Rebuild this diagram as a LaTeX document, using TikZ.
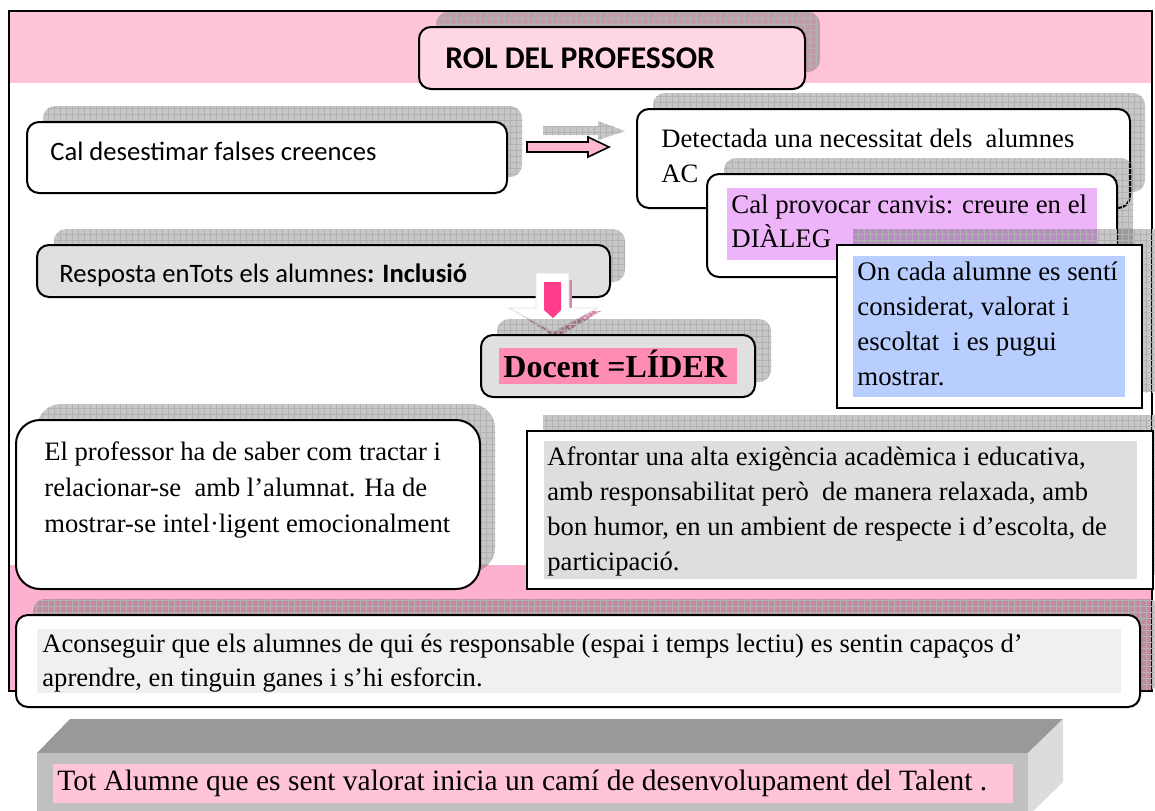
\documentclass[tikz,border=0pt]{standalone}
\usepackage{fontspec}
\setmainfont{Liberation Serif}
\newfontfamily\calibfont{Carlito}
\usetikzlibrary{patterns,fit}
\definecolor{bandpink}{HTML}{FFC4DA}
\definecolor{lowpink}{HTML}{FDB0CF}
\definecolor{rolpink}{HTML}{FFD6E6}
\definecolor{arrowpink}{HTML}{FFB6D0}
\definecolor{deeppink}{HTML}{FF3D8B}
\definecolor{liderpink}{HTML}{FF8CB4}
\definecolor{dialegviolet}{HTML}{EEB4FA}
\definecolor{consblue}{HTML}{B8CEFF}
\definecolor{boxgray}{HTML}{E0E0E0}
\definecolor{exiggray}{HTML}{DEDEDE}
\definecolor{capgray}{HTML}{F0F0F0}
\definecolor{shadowred}{HTML}{B03C70}
\definecolor{topgray}{HTML}{999999}
\definecolor{frontgray}{HTML}{C0C0C0}
\definecolor{sidegray}{HTML}{DCDCDC}

\tikzset{
    hatch/.style={fill=black, fill opacity=.22, postaction={pattern=grid, pattern color=black!30}},
    rbox/.style={draw, line width=1pt, rounded corners=6pt, inner sep=0pt},
    sbox/.style={draw, line width=1pt, inner sep=0pt},
    sanstext/.style={anchor=base west, inner sep=0pt, font=\calibfont\fontsize{13.3}{16}\selectfont},
    serftext/.style={anchor=base west, inner sep=0pt, align=left, font=\fontsize{13.3}{17.5}\selectfont},
}

\begin{document}
\begin{tikzpicture}[x=0.5pt, y=-0.5pt]
    \useasboundingbox (0,0) rectangle (1155,810);
    \fill[bandpink] (10,12) rectangle (1152,83);
    \fill[lowpink] (10,565) rectangle (1152,691);
    \draw[line width=1pt] (9,11) rectangle (1152,691);

    \fill[hatch, rounded corners=6pt] (436,12) rectangle (820,72);
    \node[rbox, fill=rolpink, fit={(419,27) (805,89)}] (rolbox) {};
    \node[sanstext, font=\calibfont\bfseries\fontsize{15.8}{18}\selectfont] (roltext) at (445,68) {ROL DEL PROFESSOR};

    \fill[hatch, rounded corners=6pt] (43,106) rectangle (522,177);
    \node[rbox, fill=white, fit={(27,122) (507,193)}] (calbox) {};
    \node[sanstext] (caltext) at (50,160) {Cal desestimar falses creences};

    \coordinate (rtip) at (625,131);
    \fill[hatch] (543,126) -- (598,126) -- (598,121) -- (rtip) -- (598,140) -- (598,135) -- (543,135) -- cycle;
    \coordinate (ptip) at (609,147);
    \draw[fill=arrowpink, line width=.8pt] (527,142) -- (588,142) -- (588,137) -- (ptip) -- (588,157) -- (588,152) -- (527,152) -- cycle;

    \fill[hatch, rounded corners=6pt] (653,93) rectangle (1145,192);
    \node[rbox, fill=white, fit={(637,109) (1130,208)}] (detbox) {};
    \node[serftext] (dettext) at (661,182) {Detectada una necessitat dels\ \ alumnes\\AC};

    \fill[hatch, rounded corners=6pt] (724,158) rectangle (1133,261);
    \node[rbox, fill=white, fit={(707,174) (1117,277)}] (canvisbox) {};
    \fill[dialegviolet] (727,188) rectangle (1097,260);
    \node[serftext, font=\fontsize{13.4}{17}\selectfont] (canvistext) at (731,247) {Cal provocar canvis: creure en el\\DIÀLEG};

    \fill[hatch] (853,229) rectangle (1160,392);
    \node[sbox, fill=white, fit={(837,245) (1142,408)}] (consbox) {};
    \fill[consblue] (853,256) rectangle (1125,397);
    \node[serftext, font=\fontsize{13.4}{17.5}\selectfont] (constext) at (857,385) {On cada alumne es sentí\\considerat, valorat i\\escoltat\ \ i es pugui\\mostrar.};

    \fill[hatch, rounded corners=6pt] (54,229) rectangle (625,282);
    \node[rbox, fill=boxgray, fit={(37,245) (610,297)}] (respbox) {};
    \node[sanstext] (resptext) at (59,282) {Resposta enTots els alumnes\textbf{: Inclusió}};

    \fill[shadowred!50, fill opacity=.7, postaction={pattern=crosshatch, pattern color=shadowred!70}] (515,311) -- (601,311) -- (556,338) -- cycle;
    \fill[shadowred!60] (569,280) rectangle (572,308);
    \draw[fill=white, draw=gray!25] (536,273) -- (569,273) -- (569,308) -- (597,308) -- (553,332) -- (509,308) -- (536,308) -- cycle;
    \fill[deeppink] (544,282) -- (561,282) -- (561,310) -- (553,318) -- (544,310) -- cycle;

    \fill[hatch, rounded corners=6pt] (497,319) rectangle (771,382);
    \node[rbox, fill=boxgray, fit={(481,335) (755,397)}] (liderbox) {};
    \fill[liderpink] (499,348) rectangle (737,384);
    \node[serftext, font=\bfseries\fontsize{16}{19}\selectfont] (lidertext) at (503,377) {Docent =LÍDER};

    \fill[hatch, rounded corners=12pt] (37,404) rectangle (495,572);
    \node[rbox, rounded corners=12pt, fill=white, fit={(16,420) (480,589)}] (profbox) {};
    \node[serftext, font=\fontsize{13.3}{18}\selectfont] (proftext) at (44,532) {El professor ha de saber com tractar i\\relacionar-se\ \ amb l’alumnat. Ha de\\mostrar-se intel·ligent emocionalment};

    \fill[hatch] (543,415) rectangle (1160,575);
    \node[sbox, fill=white, fit={(527,431) (1153,589)}] (exigbox) {};
    \fill[exiggray] (544,441) rectangle (1137,579);
    \node[serftext] (exigtext) at (547,570) {Afrontar una alta exigència acadèmica i educativa,\\amb responsabilitat però\ \ de manera relaxada, amb\\bon humor, en un ambient de respecte i d’escolta, de\\participació.};

    \fill[hatch, rounded corners=6pt] (33,599) rectangle (1160,690);
    \node[rbox, fill=white, fit={(16,615) (1140,707)}] (capbox) {};
    \fill[capgray] (37,629) rectangle (1121,693);
    \node[serftext, font=\fontsize{13.3}{17}\selectfont] (captext) at (42,686) {Aconseguir que els alumnes de qui és responsable (espai i temps lectiu) es sentin capaços d’\\aprendre, en tinguin ganes i s’hi esforcin.};

    \fill[topgray] (37,753) -- (70,719) -- (1063,719) -- (1028,753) -- cycle;
    \fill[sidegray] (1028,753) -- (1063,719) -- (1063,782) -- (1028,816) -- cycle;
    \node[inner sep=0pt, fill=frontgray, fit={(37,753) (1028,812)}] (talentbox) {};
    \fill[bandpink] (53,764) rectangle (1013,803);
    \node[serftext, font=\fontsize{14.75}{17}\selectfont] (talenttext) at (57,790) {Tot Alumne que es sent valorat inicia un camí de desenvolupament del Talent .};
\end{tikzpicture}
\end{document}
